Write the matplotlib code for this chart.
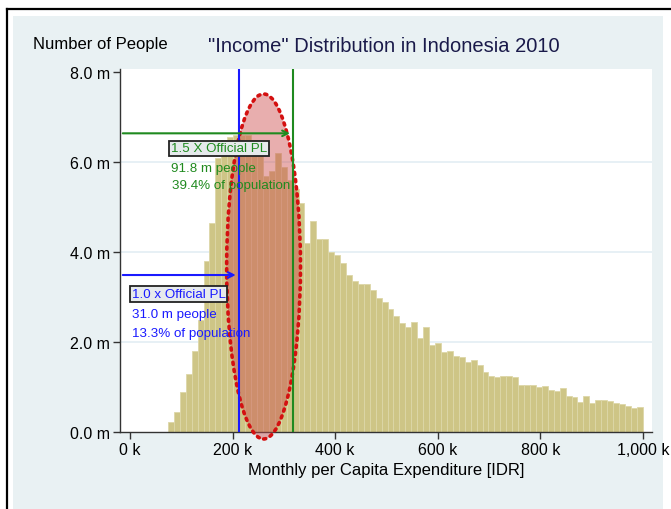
import numpy as np
import matplotlib.pyplot as plt
from matplotlib.patches import Ellipse, Rectangle

plt.rcParams['font.family'] = ['Liberation Sans', 'DejaVu Sans']

# histogram: 80 bins of monthly per capita expenditure (thousand IDR)
bin_start = 74.0
bin_end = 1000.0
people = [0.22, 0.44, 0.9, 1.3, 1.8, 2.5, 3.8, 4.65, 6.1, 6.5,
          6.55, 6.6, 6.6, 6.6, 6.5, 6.4, 5.7, 5.8, 6.2, 5.9,
          5.6, 5.4, 5.1, 4.2, 4.7, 4.3, 4.3, 4.0, 3.93, 3.75,
          3.5, 3.36, 3.29, 3.3, 3.16, 2.98, 2.9, 2.73, 2.57, 2.42,
          2.34, 2.45, 2.08, 2.34, 1.93, 1.97, 1.78, 1.8, 1.69, 1.67,
          1.56, 1.6, 1.49, 1.33, 1.24, 1.22, 1.24, 1.24, 1.22, 1.04,
          1.04, 1.04, 1.0, 1.02, 0.93, 0.91, 0.97, 0.81, 0.78, 0.67,
          0.8, 0.64, 0.71, 0.71, 0.69, 0.64, 0.62, 0.57, 0.54, 0.55]

poverty_line = 211.7   # official PL, thousand IDR
x_ticks = [0, 200, 400, 600, 800, 1000]
x_labels = ['0 k', '200 k', '400 k', '600 k', '800 k', '1,000 k']
y_ticks = [0, 2, 4, 6, 8]
y_labels = ['0.0 m', '2.0 m', '4.0 m', '6.0 m', '8.0 m']

# highlighted region
ell_center = (260.5, 3.68)
ell_width = 144
ell_height = 7.67

blue = '#1a1aff'
green = '#1f8a1f'

fig = plt.figure(figsize=(6.71, 5.10), dpi=100, facecolor='white')

# light graph region + black frame
bg = Rectangle((13 / 671, 0), 650 / 671, 493 / 510, transform=fig.transFigure,
               facecolor='#e9f1f3', edgecolor='none', zorder=-10)
fig.add_artist(bg)
fig.add_artist(plt.Line2D([7 / 671, 7 / 671], [0, 500 / 510], color='black', lw=1.6,
                          transform=fig.transFigure, zorder=-5))
fig.add_artist(plt.Line2D([7 / 671, 1], [500 / 510, 500 / 510], color='black', lw=1.6,
                          transform=fig.transFigure, zorder=-5))

ax = fig.add_axes([120 / 671, 77 / 510, 532 / 671, 363 / 510])
ax.set_facecolor('white')

edges = np.linspace(bin_start, bin_end, len(people) + 1)
ax.bar(edges[:-1], people, width=np.diff(edges), align='edge', color='#cec586',
       edgecolor='#ddd7a8', linewidth=0.6, zorder=2)

ax.set_xlim(-19.5, 1018)
ax.set_ylim(0, 8.07)
ax.set_xticks(x_ticks)
ax.set_xticklabels(x_labels)
ax.set_yticks(y_ticks)
ax.set_yticklabels(y_labels)
for y in y_ticks[1:-1]:
    ax.axhline(y, color='#e3edf3', lw=1.2, zorder=1)

for s in ['top', 'right']:
    ax.spines[s].set_visible(False)
for s in ['left', 'bottom']:
    ax.spines[s].set_color('#333333')
    ax.spines[s].set_linewidth(1.0)
ax.tick_params(axis='both', colors='#333333', labelcolor='black', labelsize=11.5,
               length=5, width=1.0, pad=2)

ell = Ellipse(ell_center, ell_width, ell_height, facecolor=(0.8, 0.3, 0.3, 0.45),
              edgecolor='#d41010', linewidth=2.6, linestyle=(0, (0.6, 1.4)), zorder=3,
              clip_on=False)
ell.set_capstyle('round')
ax.add_patch(ell)

ax.axvline(poverty_line, color=blue, lw=1.5, zorder=4)
ax.axvline(1.5 * poverty_line, color=green, lw=1.5, zorder=4)

ax.annotate('', xy=(poverty_line, 3.49), xytext=(-19.5, 3.49),
            arrowprops=dict(arrowstyle='->', color=blue, lw=1.5), zorder=4)
ax.annotate('', xy=(1.5 * poverty_line, 6.64), xytext=(-19.5, 6.64),
            arrowprops=dict(arrowstyle='->', color=green, lw=1.5), zorder=4)

box = dict(boxstyle='square,pad=0.12', facecolor='#e6eaec', edgecolor='#222222', lw=1.3)
ax.text(80, 6.31, '1.5 X Official PL', color=green, fontsize=9.6, va='center', bbox=box, zorder=5)
ax.text(80, 5.87, '91.8 m people', color=green, fontsize=9.6, va='center', zorder=5)
ax.text(82, 5.49, '39.4% of population', color=green, fontsize=9.6, va='center', zorder=5)

ax.text(3, 3.07, '1.0 x Official PL', color=blue, fontsize=9.6, va='center', bbox=box, zorder=5)
ax.text(3, 2.62, '31.0 m people', color=blue, fontsize=9.6, va='center', zorder=5)
ax.text(3, 2.2, '13.3% of population', color=blue, fontsize=9.6, va='center', zorder=5)

ax.set_xlabel('Monthly per Capita Expenditure [IDR]', fontsize=12, labelpad=4)
fig.text(33 / 671, 1 - 45 / 510, 'Number of People', fontsize=12, va='center', ha='left')
fig.text(384 / 671, 1 - 47 / 510, '"Income" Distribution in Indonesia 2010', fontsize=14.5,
         va='center', ha='center', color='#1a1a4a')

fig.savefig('out.png', dpi=100, facecolor=fig.get_facecolor())
